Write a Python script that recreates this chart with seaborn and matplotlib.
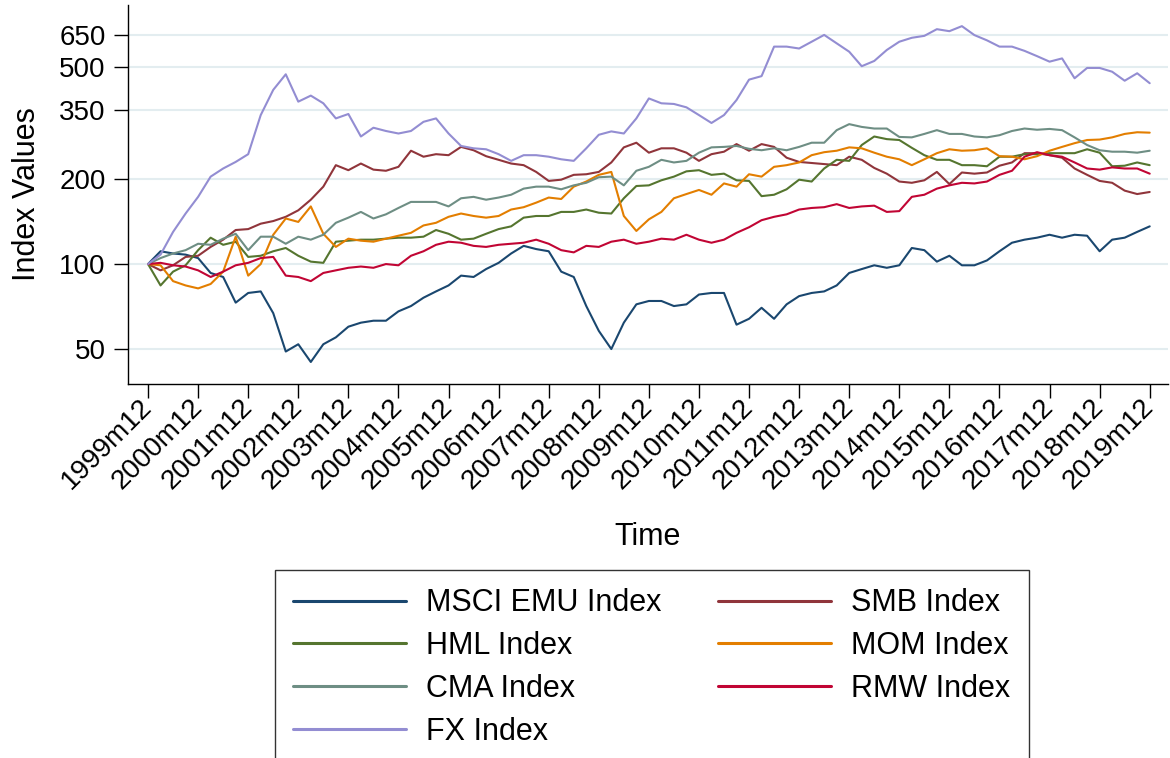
import numpy as np
import pandas as pd
import matplotlib
matplotlib.use("Agg")
import matplotlib.pyplot as plt
import seaborn as sns
from matplotlib.ticker import NullLocator

# quarterly observations, months counted from 1999m12
months = list(range(0, 241, 3))
year_ticks = list(range(0, 241, 12))
year_labels = [f"{y}m12" for y in range(1999, 2020)]
y_ticks = [50, 100, 200, 350, 500, 650]

msci = [100, 111, 109, 108, 105, 93, 90, 73, 79, 80, 67, 49, 52, 45, 52, 55, 60,
        62, 63, 63, 68, 71, 76, 80, 84, 91, 90, 96, 101, 109, 116, 113, 111,
        94, 90, 71, 58, 50, 62, 72, 74, 74, 71, 72, 78, 79, 79, 61, 64,
        70, 64, 72, 77, 79, 80, 84, 93, 96, 99, 97, 99, 114, 112, 102, 107,
        99, 99, 103, 111, 119, 122, 124, 127, 124, 127, 126, 111, 122, 124, 130, 136]
smb = [100, 95, 99, 106, 107, 115, 122, 132, 133, 139, 142, 147, 155, 169, 188, 224, 215,
       227, 216, 214, 221, 252, 240, 245, 243, 260, 253, 241, 234, 227, 224, 212, 197,
       199, 207, 208, 212, 229, 259, 269, 248, 257, 257, 248, 232, 245, 250, 266, 252,
       266, 260, 238, 230, 228, 226, 224, 240, 234, 219, 209, 196, 194, 198, 212, 192,
       211, 209, 211, 223, 229, 247, 247, 243, 238, 218, 207, 197, 194, 182, 177, 180]
hml = [100, 84, 94, 99, 112, 124, 117, 120, 106, 107, 111, 114, 107, 102, 101, 120, 121,
       122, 122, 123, 124, 124, 125, 132, 128, 122, 123, 128, 133, 136, 146, 148, 148,
       153, 153, 156, 152, 151, 171, 189, 190, 198, 204, 213, 215, 207, 209, 198, 197,
       174, 176, 184, 199, 196, 218, 234, 232, 264, 283, 277, 275, 258, 243, 234, 234,
       224, 224, 222, 240, 240, 245, 245, 247, 247, 247, 255, 248, 222, 223, 229, 224]
mom = [100, 99, 87, 84, 82, 85, 94, 125, 91, 100, 127, 145, 141, 160, 128, 115, 123,
       121, 120, 123, 126, 129, 137, 140, 147, 151, 148, 146, 148, 156, 159, 165, 172,
       170, 188, 196, 207, 212, 148, 131, 144, 153, 171, 177, 183, 176, 193, 188, 208,
       204, 221, 224, 229, 243, 249, 252, 259, 257, 248, 240, 235, 224, 235, 247, 255,
       252, 253, 257, 241, 240, 235, 241, 252, 260, 268, 275, 276, 281, 289, 293, 292]
cma = [100, 105, 109, 112, 118, 117, 123, 128, 112, 125, 125, 118, 125, 122, 127, 140, 146,
       153, 145, 150, 158, 166, 166, 166, 160, 171, 173, 169, 172, 176, 185, 188, 188,
       184, 190, 194, 203, 204, 190, 214, 221, 234, 229, 232, 248, 259, 260, 262, 256,
       253, 257, 253, 260, 269, 269, 298, 313, 306, 302, 302, 282, 281, 289, 298, 289,
       289, 283, 281, 286, 296, 302, 299, 301, 298, 281, 264, 253, 250, 250, 248, 252]
rmw = [100, 101, 99, 98, 95, 90, 94, 99, 101, 105, 106, 91, 90, 87, 93, 95, 97,
       98, 97, 100, 99, 107, 111, 117, 120, 119, 116, 115, 117, 118, 119, 122, 118,
       112, 110, 116, 115, 120, 122, 118, 120, 123, 122, 127, 122, 119, 122, 129, 135,
       143, 147, 150, 156, 158, 159, 163, 158, 160, 161, 153, 154, 173, 176, 185, 190,
       194, 193, 196, 207, 214, 240, 249, 243, 240, 229, 218, 216, 220, 218, 218, 209]
fx = [100, 108, 130, 151, 173, 204, 218, 230, 245, 337, 414, 470, 376, 395, 371, 328, 340,
      283, 304, 296, 290, 296, 319, 328, 290, 262, 257, 255, 245, 232, 243, 243, 240,
      235, 232, 257, 287, 295, 290, 328, 386, 371, 369, 359, 337, 316, 337, 381, 450,
      463, 589, 589, 580, 613, 648, 605, 565, 502, 524, 573, 613, 633, 643, 679, 668,
      696, 647, 620, 589, 589, 569, 545, 521, 535, 455, 495, 495, 480, 446, 474, 437]

names = ["MSCI EMU Index", "SMB Index", "HML Index", "MOM Index",
         "CMA Index", "RMW Index", "FX Index"]
colors = ["#1a476f", "#90353b", "#55752f", "#e37e00", "#6e8e84", "#c10534", "#938dd2"]
series = [msci, smb, hml, mom, cma, rmw, fx]

df = pd.DataFrame({
    "month": months * len(names),
    "value": np.concatenate(series),
    "series": np.repeat(names, len(months)),
})

sns.set_theme(style="white")
plt.rcParams["font.family"] = ["Liberation Sans", "DejaVu Sans"]
plt.rcParams["text.color"] = "black"

fig = plt.figure(figsize=(11.7, 7.58), dpi=100)
ax = fig.add_axes([0.1094, 0.4934, 0.8886, 0.5])

sns.lineplot(data=df, x="month", y="value", hue="series", hue_order=names,
             palette=dict(zip(names, colors)), linewidth=1.5, ax=ax)

ax.set_yscale("log")
ax.set_ylim(37.6, 827)
ax.set_xlim(-4.8, 244.3)
ax.set_yticks(y_ticks)
ax.set_yticklabels([str(v) for v in y_ticks])
ax.yaxis.set_minor_locator(NullLocator())
ax.set_xticks(year_ticks)
ax.set_xticklabels(year_labels, rotation=45, ha="right", va="center",
                   rotation_mode="anchor")
ax.tick_params(axis="both", direction="out", length=10, width=1, color="black",
               labelsize=20, labelcolor="black", left=True, bottom=True)
ax.tick_params(axis="y", pad=6)
ax.tick_params(axis="x", pad=4)
ax.grid(axis="y", color="#e3edf0", linewidth=1.5)
ax.grid(axis="x", visible=False)
for side in ["top", "right"]:
    ax.spines[side].set_visible(False)
for side in ["left", "bottom"]:
    ax.spines[side].set_color("black")
    ax.spines[side].set_linewidth(1.0)

ax.set_ylabel("Index Values", fontsize=22, color="black")
ax.yaxis.set_label_coords(-0.083, 0.5)
ax.set_xlabel("Time", fontsize=22, color="black")
ax.xaxis.label.set_va("baseline")
ax.xaxis.set_label_coords(0.5, -0.4248)

handles, labels = ax.get_legend_handles_labels()
ax.get_legend().remove()
order = [0, 2, 4, 6, 1, 3, 5]
leg = fig.legend([handles[i] for i in order], [labels[i] for i in order],
                 ncol=2, loc="upper left", bbox_to_anchor=(275 / 1170, 1 - 570 / 758),
                 frameon=True, fancybox=False, edgecolor="black", fontsize=22,
                 handlelength=3.7, handletextpad=0.65, columnspacing=1.85,
                 labelspacing=0.42, borderpad=0.6, borderaxespad=0)
leg.get_frame().set_linewidth(1.0)
for text in leg.get_texts():
    text.set_color("black")
for line in leg.get_lines():
    line.set_linewidth(2.2)

fig.savefig("out.png", dpi=100)
